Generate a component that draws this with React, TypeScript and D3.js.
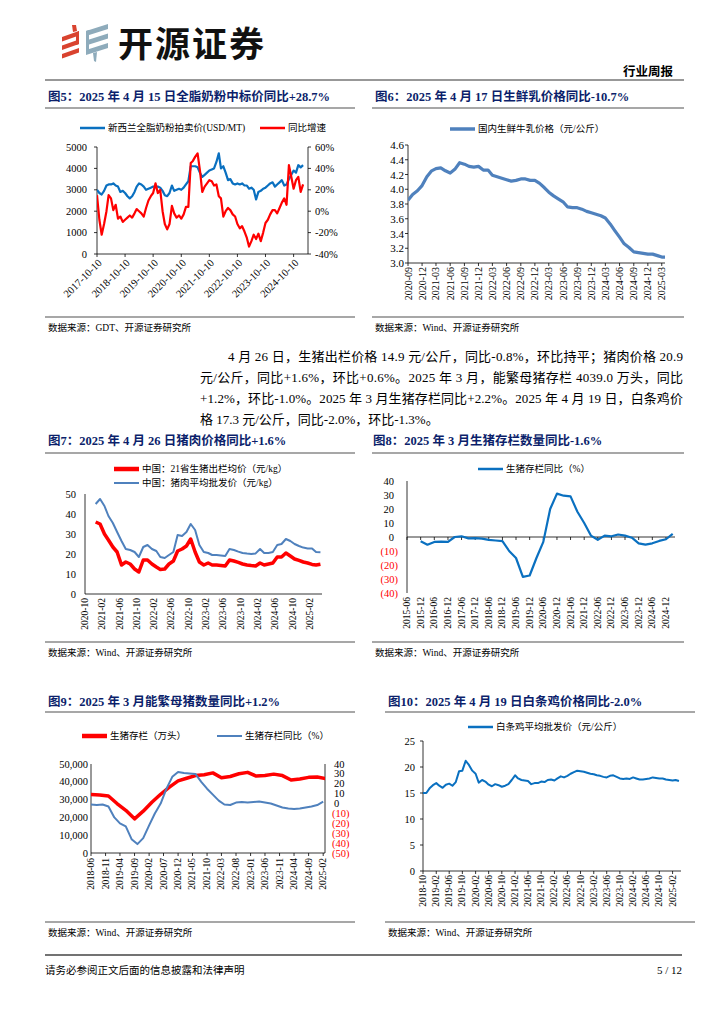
import React, { useEffect, useRef } from 'react';
import * as d3 from 'd3';

const SERIF = "'Liberation Serif', 'Noto Sans CJK SC', serif";
const NAVY = '#0c1f6b';
const RULE = '#8a8a8a';
const RED = '#ff0000';
const BLUE = '#0a70c0';
const STEEL = '#4f81bd';

// 图5 全脂奶粉拍卖价 / 同比 (monthly from 2017-10-10)
const wmpStart = '2017-10-10';
const wmpEnd = '2025-04-15';
const wmpPrice = [
  3000, 2850, 2780, 2950, 3200, 3250, 3250, 3300, 3200, 3150, 2900, 2950, 2850, 2700, 2600,
  2700, 2900, 3150, 3300, 3250, 3150, 3000, 3050, 3100, 3150, 3150, 3150,
  3100, 2950, 2750, 2700, 2850, 3200, 2950, 3000, 3050, 3000, 3100, 3250,
  3400, 4100, 4100, 4100, 4050, 3800, 3600, 3700, 3800, 3900, 3950, 4000,
  4300, 4700, 4000, 4100, 3800, 3450, 3500, 3300, 3250, 3300, 3250, 3300,
  3200, 3200, 3050, 3100, 3000, 2550, 2900, 2950, 3050, 3100, 3200, 3300,
  3350, 3150, 3250, 3350, 3450, 3200, 3250, 3500, 3700, 3900, 3800, 4150,
  4050, 4150,
];
const wmpYoy = [
  15, -8, -22, -12, 0, 15, 12, 1, 6, -7, -5, -10, -8, -6, -4, -6, -2, 2, 0, -2, -5, 3, 10, 14,
  17, 26, 17, 20, 0, -12, -17, -12, 5, -2, -6, -4, -7, -3, 4, 4, 45, 47, 51, 54, 38, 18,
  23, 26, 29, 28, 24, 25, 14, 12, -5, 0, 3, 1, -3, -5, -12, -16, -14, -19, -25, -33, -28, -22,
  -26, -21, -28, -20, -11, -8, -3, 1, 1, -2, 3, 8, 12, 6, 43, 32, 21, 29, 32, 18, 25, 31, 29,
];
const wmpTicks = ['2017-10-10', '2018-10-10', '2019-10-10', '2020-10-10', '2021-10-10', '2022-10-10', '2023-10-10', '2024-10-10'];

// 图6 国内生鲜牛乳价格 (monthly from 2020-09)
const milkStart = '2020-09-01';
const milkPrice = [
  3.85, 3.93, 3.98, 4.05, 4.17, 4.25, 4.28, 4.29, 4.25, 4.22, 4.27, 4.36, 4.34, 4.31, 4.30, 4.31,
  4.26, 4.26, 4.19, 4.17, 4.15, 4.13, 4.11, 4.12, 4.14, 4.14, 4.12, 4.12, 4.08, 4.02, 3.96, 3.91,
  3.87, 3.83, 3.76, 3.75, 3.75, 3.73, 3.70, 3.68, 3.66, 3.64, 3.61, 3.53, 3.44, 3.35, 3.26, 3.21,
  3.15, 3.14, 3.13, 3.12, 3.12, 3.10, 3.08, 3.08,
];
const milkTicks = ['2020-09', '2020-12', '2021-03', '2021-06', '2021-09', '2021-12', '2022-03', '2022-06', '2022-09', '2022-12', '2023-03', '2023-06', '2023-09', '2023-12', '2024-03', '2024-06', '2024-09', '2024-12', '2025-03'];

// 图7 生猪出栏均价 / 猪肉批发价 (monthly from 2020-12-15)
const hogStart = '2020-12-15';
const hogPrice = [
  36, 35, 30, 27, 23.5, 21, 14.5, 16, 15, 12.5, 11, 17, 17, 15, 13.5, 12.3, 12.5, 15, 16.5, 21.5,
  22.5, 24, 27.5, 21, 16, 14.5, 15.5, 14.5, 14.5, 14.3, 14, 17, 16.5, 15.8, 15, 14.5, 14.2, 14,
  15.5, 14.5, 15, 15.5, 18.5, 18.5, 20.5, 19, 17.5, 16.8, 16, 15.5, 14.8, 14.5, 14.9,
];
const porkPrice = [
  45, 47.5, 44, 39, 35.5, 31, 26.5, 22.5, 22, 21, 18.5, 23.5, 24.5, 22.5, 21.5, 18.5, 18, 19.5,
  21, 29.5, 29, 31, 35, 32, 24.5, 21, 20.5, 19.5, 19.5, 19.3, 19, 22.5, 22, 21.2, 20.5, 20.2, 20,
  20.3, 22.5, 20.5, 20.5, 21, 24.5, 25, 27.5, 26.5, 25, 24, 23.2, 22.8, 22.8, 21, 20.9,
];
const hogTicks = ['2020-10', '2021-02', '2021-06', '2021-10', '2022-02', '2022-06', '2022-10', '2023-02', '2023-06', '2023-10', '2024-02', '2024-06', '2024-10', '2025-02'];

// 图8 生猪存栏同比 (quarterly from 2015-12)
const herdStart = '2015-12-01';
const herdYoy = [
  -3, -5.5, -3.5, -3.3, -3.5, 0, 0.5, -1, -0.8, -1.2, -2, -2.5, -3, -10, -15, -28.5, -27.5, -15,
  -3.5, 20, 31, 29.5, 29, 18, 10, 1, -2, 1, 0.5, 1.8, 1, -0.5, -4.5, -5.5, -4.5, -2.8, -1.6, 2.2,
];
const herdTicks = ['2015-06', '2015-12', '2016-06', '2016-12', '2017-06', '2017-12', '2018-06', '2018-12', '2019-06', '2019-12', '2020-06', '2020-12', '2021-06', '2021-12', '2022-06', '2022-12', '2023-06', '2023-12', '2024-06', '2024-12'];

// 图9 生猪存栏 (quarterly from 2018-06) / 同比 (bi-monthly from 2018-06)
const stockStart = '2018-06-01';
const stockHead = [
  32800, 32600, 32000, 27800, 24000, 19200, 23500, 28500, 33000, 37000, 40500, 42000, 43500, 44000,
  45000, 42300, 43000, 44500, 45300, 43200, 43500, 44300, 43500, 41000, 41600, 42500, 42700, 41800,
];
const stockYoy = [
  -1, -1.5, -1, -3, -14, -20, -23, -36, -41, -35, -22, -10, 0, 15, 27, 32, 31, 30.5, 30, 22, 15,
  9, 3, -1, -1.5, 1, 1.5, 1, 1.5, 2, 1, 0, -2, -4, -5, -5.5, -5, -4, -3, -1.5, 2,
];
const stockTicks = ['2018-06', '2018-11', '2019-04', '2019-09', '2020-02', '2020-07', '2020-12', '2021-05', '2021-10', '2022-03', '2022-08', '2023-01', '2023-06', '2023-11', '2024-04', '2024-09', '2025-02'];

// 图10 白条鸡平均批发价 (monthly from 2018-10)
const chickenStart = '2018-10-01';
const chickenPrice = [
  15.0, 15.0, 15.9, 16.5, 16.9, 16.4, 16.0, 16.6, 16.8, 16.4, 17.1, 19.2, 19.3, 21.2, 20.4, 19.3,
  18.7, 17.0, 17.5, 17.2, 16.6, 16.3, 16.7, 16.5, 16.2, 16.4, 16.7, 17.5, 18.4, 17.8, 17.5, 17.4,
  17.3, 16.7, 16.9, 16.9, 17.2, 17.1, 17.5, 17.6, 17.4, 17.8, 18.2, 18.0, 18.3, 18.7, 19.0, 19.3,
  19.2, 19.1, 18.9, 18.7, 18.6, 18.4, 18.3, 18.1, 18.0, 18.3, 18.4, 18.1, 17.8, 17.7, 17.8, 17.7,
  18.0, 17.8, 17.6, 17.6, 17.7, 17.8, 18.0, 17.9, 17.8, 17.8, 17.6, 17.5, 17.4, 17.5, 17.3,
];
const chickenTicks = ['2018-10', '2019-02', '2019-06', '2019-10', '2020-02', '2020-06', '2020-10', '2021-02', '2021-06', '2021-10', '2022-02', '2022-06', '2022-10', '2023-02', '2023-06', '2023-10', '2024-02', '2024-06', '2024-10', '2025-02'];

const paragraph = [
  '4 月 26 日，生猪出栏价格 14.9 元/公斤，同比-0.8%，环比持平；猪肉价格 20.9',
  '元/公斤，同比+1.6%，环比+0.6%。2025 年 3 月，能繁母猪存栏 4039.0 万头，同比',
  '+1.2%，环比-1.0%。2025 年 3 月生猪存栏同比+2.2%。2025 年 4 月 19 日，白条鸡价',
  '格 17.3 元/公斤，同比-2.0%，环比-1.3%。',
];

type G = d3.Selection<SVGGElement, unknown, null, undefined>;
type TOpt = { size?: number; anchor?: string; weight?: string | number; fill?: string; rotate?: number; len?: number };

const day = d3.timeParse('%Y-%m-%d');
const mon = d3.timeParse('%Y-%m');
const months = (start: string, n: number, step = 1) =>
  d3.range(n).map((i) => d3.timeMonth.offset(day(start)!, i * step));

function text(g: G, x: number, y: number, s: string, o: TOpt = {}) {
  const t = g
    .append('text')
    .attr('transform', `translate(${x},${y})${o.rotate ? ` rotate(${o.rotate})` : ''}`)
    .attr('font-family', SERIF)
    .attr('font-size', o.size ?? 10)
    .attr('text-anchor', o.anchor ?? 'start')
    .attr('dominant-baseline', 'central')
    .attr('font-weight', o.weight ?? 'normal')
    .attr('fill', o.fill ?? '#000')
    .text(s);
  if (o.len) t.attr('textLength', o.len).attr('lengthAdjust', 'spacing');
  return t;
}

function rule(g: G, x1: number, y1: number, x2: number, y2: number, color = '#000', w = 1) {
  g.append('line').attr('x1', x1).attr('y1', y1).attr('x2', x2).attr('y2', y2)
    .attr('stroke', color).attr('stroke-width', w);
}

function series(g: G, clip: string, dates: Date[], values: number[], x: d3.ScaleTime<number, number>,
  y: d3.ScaleLinear<number, number>, color: string, w: number) {
  const line = d3.line<number>().x((_, i) => x(dates[i])).y((v) => y(v));
  g.append('path').datum(values).attr('d', line).attr('fill', 'none').attr('stroke', color)
    .attr('stroke-width', w).attr('stroke-linejoin', 'round').attr('clip-path', `url(#${clip})`);
}

function clipRect(svg: d3.Selection<SVGSVGElement, unknown, null, undefined>, id: string, x0: number, y0: number, x1: number, y1: number) {
  svg.select('defs').append('clipPath').attr('id', id).append('rect')
    .attr('x', x0).attr('y', y0 - 4).attr('width', x1 - x0).attr('height', y1 - y0 + 8);
}

function legendItem(g: G, x: number, y: number, color: string, w: number, label: string, size = 9.5) {
  rule(g, x, y, x + 25, y, color, w);
  text(g, x + 28, y, label, { size });
}

function vLabels(g: G, x: d3.ScaleTime<number, number>, ticks: string[], top: number, size = 10) {
  ticks.forEach((t) => {
    const px = x(mon(t)!);
    rule(g, px, top - 4, px, top - 1, '#000', 0.8);
    text(g, px, top + 1, t, { size, anchor: 'end', rotate: -90 });
  });
}

function App() {
  const ref = useRef<SVGSVGElement>(null);

  useEffect(() => {
    if (!ref.current) return;
    const svg = d3.select(ref.current);
    svg.selectAll('*').remove();
    svg.append('defs');
    const page = svg.append('g');

    // Logo
    const logo = page.append('g');
    [0, 1, 2].forEach((i) => {
      const y0 = 31 + i * 8.5;
      logo.append('polygon')
        .attr('points', `62,${y0 + 6} 79,${y0} 79,${y0 + 4.5} 62,${y0 + 10.5}`)
        .attr('fill', '#d9432f');
    });
    logo.append('polygon').attr('points', '72,25 76,25 77,31 73,32').attr('fill', '#d9432f');
    logo.append('polygon').attr('points', '76,33 79,31 79,44 76,45').attr('fill', '#d9432f');
    [0, 1, 2].forEach((i) => {
      const y0 = 24 + i * 9.5;
      logo.append('polygon')
        .attr('points', `86,${y0 + 7} 108,${y0} 108,${y0 + 5} 86,${y0 + 12}`)
        .attr('fill', '#8eabbb');
    });
    logo.append('polygon').attr('points', '86,31 89,30 89,50 86,51').attr('fill', '#8eabbb');
    logo.append('polygon').attr('points', '93,53 97,52 96,62 94,61').attr('fill', '#8eabbb');
    page.append('text').attr('x', 118).attr('y', 57).attr('font-family', "'Noto Sans CJK SC', sans-serif")
      .attr('font-size', 35).attr('font-weight', 700).attr('fill', '#111').attr('letter-spacing', 2).text('开源证券');

    text(page, 673, 72, '行业周报', { size: 12.5, anchor: 'end', weight: 700 });
    rule(page, 45, 80, 684, 80, '#333', 1.2);

    // Titles, rules and sources
    const titles: [number, number, string][] = [
      [48, 97, '图5：2025 年 4 月 15 日全脂奶粉中标价同比+28.7%'],
      [375, 97, '图6：2025 年 4 月 17 日生鲜乳价格同比-10.7%'],
      [48, 441, '图7：2025 年 4 月 26 日猪肉价格同比+1.6%'],
      [373, 441, '图8：2025 年 3 月生猪存栏数量同比-1.6%'],
      [48, 702, '图9：2025 年 3 月能繁母猪数量同比+1.2%'],
      [388, 702, '图10：2025 年 4 月 19 日白条鸡价格同比-2.0%'],
    ];
    titles.forEach(([x, y, s]) => text(page, x, y, s, { size: 12.5, weight: 700, fill: NAVY }));
    const spans: [number, number, number][] = [
      [45, 355, 0], [372, 684, 0], [45, 355, 1], [372, 684, 1], [45, 355, 2], [385, 695, 2],
    ];
    const under = [108, 453, 712];
    const srcRule = [317, 642, 922];
    spans.forEach(([a, b, r]) => {
      rule(page, a, under[r], b, under[r], RULE, 1.5);
      rule(page, a, srcRule[r], b, srcRule[r], RULE, 1.5);
    });
    text(page, 48, 328, '数据来源：GDT、开源证券研究所', { size: 9.5 });
    text(page, 375, 328, '数据来源：Wind、开源证券研究所', { size: 9.5 });
    text(page, 48, 653, '数据来源：Wind、开源证券研究所', { size: 9.5 });
    text(page, 375, 653, '数据来源：Wind、开源证券研究所', { size: 9.5 });
    text(page, 48, 933, '数据来源：Wind、开源证券研究所', { size: 9.5 });
    text(page, 388, 933, '数据来源：Wind、开源证券研究所', { size: 9.5 });

    // Paragraph
    const py = [356, 377, 398, 419];
    paragraph.forEach((s, i) => {
      const x0 = i === 0 ? 228 : 200;
      text(page, x0, py[i], s, { size: 13, len: i < 3 ? 683 - x0 : undefined });
    });

    // Footer
    rule(page, 45, 955, 682, 955, '#444', 1.5);
    text(page, 45, 970, '请务必参阅正文后面的信息披露和法律声明', { size: 10.5 });
    text(page, 682, 970, '5 / 12', { size: 11, anchor: 'end' });

    // ---------- 图5 ----------
    {
      const g = svg.append('g');
      const L = 97, R = 308, T = 147, B = 254;
      const x = d3.scaleTime().domain([day(wmpStart)!, day(wmpEnd)!]).range([L, R]);
      const yl = d3.scaleLinear().domain([0, 5000]).range([B, T]);
      const yr = d3.scaleLinear().domain([-40, 60]).range([B, T]);
      clipRect(svg, 'c5', L, T, R, B);
      rule(g, L, T, L, B, '#000', 0.8);
      rule(g, R, T, R, B, '#000', 0.8);
      rule(g, L, B, R, B, '#000', 0.8);
      yl.ticks(5).forEach((v) => {
        rule(g, L - 3, yl(v), L, yl(v), '#000', 0.8);
        text(g, L - 10, yl(v), String(v), { size: 10.5, anchor: 'end' });
      });
      d3.range(-40, 61, 20).forEach((v) => {
        rule(g, R, yr(v), R + 3, yr(v), '#000', 0.8);
        text(g, R + 7, yr(v), `${v}%`, { size: 10.5 });
      });
      wmpTicks.forEach((t) => {
        const px = x(day(t)!);
        rule(g, px, B, px, B + 3, '#000', 0.8);
        text(g, px + 3, B + 7, t, { size: 10.5, anchor: 'end', rotate: -45 });
      });
      const dates = months(wmpStart, wmpPrice.length);
      series(g, 'c5', dates, wmpPrice, x, yl, BLUE, 2.2);
      series(g, 'c5', dates, wmpYoy, x, yr, RED, 2.2);
      legendItem(g, 80, 128, BLUE, 2.5, '新西兰全脂奶粉拍卖价(USD/MT)', 9.5);
      legendItem(g, 260, 128, RED, 2.5, '同比增速', 9.5);
    }

    // ---------- 图6 ----------
    {
      const g = svg.append('g');
      const L = 408, R = 665, T = 145, B = 263;
      const x = d3.scaleTime().domain([mon('2020-09')!, day('2025-03-22')!]).range([L, R]);
      const y = d3.scaleLinear().domain([3.0, 4.6]).range([B, T]);
      clipRect(svg, 'c6', L, T, R, B);
      rule(g, L, T, L, B, '#000', 0.8);
      rule(g, L, B, R, B, '#000', 0.8);
      d3.range(3.0, 4.61, 0.2).forEach((v) => {
        rule(g, L - 3, y(v), L, y(v), '#000', 0.8);
        text(g, L - 4, y(v), v.toFixed(1), { size: 11, anchor: 'end' });
      });
      milkTicks.forEach((t) => {
        const px = x(mon(t)!);
        rule(g, px, B, px, B + 3, '#000', 0.8);
        text(g, px, B + 4, t, { size: 10, anchor: 'end', rotate: -90 });
      });
      series(g, 'c6', months(milkStart, milkPrice.length), milkPrice, x, y, STEEL, 3.2);
      legendItem(g, 450, 129, STEEL, 3.5, '国内生鲜牛乳价格（元/公斤）', 9.5);
    }

    // ---------- 图7 ----------
    {
      const g = svg.append('g');
      const L = 85, R = 322, T = 494, B = 594;
      const x = d3.scaleTime().domain([mon('2020-10')!, day('2025-04-26')!]).range([L, R]);
      const y = d3.scaleLinear().domain([0, 50]).range([B, T]);
      clipRect(svg, 'c7', L, T, R, B);
      rule(g, L, T, L, B, '#000', 0.8);
      rule(g, L, B, R, B, '#000', 0.8);
      y.ticks(5).forEach((v) => text(g, L - 9, y(v), String(v), { size: 10.5, anchor: 'end' }));
      hogTicks.forEach((t) => {
        const px = x(mon(t)!);
        text(g, px, B + 4, t, { size: 9.5, anchor: 'end', rotate: -90 });
      });
      const dates = months(hogStart, hogPrice.length);
      series(g, 'c7', dates, porkPrice, x, y, STEEL, 2);
      series(g, 'c7', dates, hogPrice, x, y, RED, 3.5);
      legendItem(g, 114, 469, RED, 4.5, '中国：21省生猪出栏均价（元/kg）', 9.5);
      legendItem(g, 114, 483, STEEL, 2, '中国：猪肉平均批发价（元/kg）', 9.5);
    }

    // ---------- 图8 ----------
    {
      const g = svg.append('g');
      const L = 407, R = 675, T = 481, B = 593;
      const x = d3.scaleTime().domain([mon('2015-06')!, mon('2025-04')!]).range([L, R]);
      const y = d3.scaleLinear().domain([-40, 40]).range([B, T]);
      clipRect(svg, 'c8', L, T, R, B);
      rule(g, L, T, L, B, '#000', 0.8);
      rule(g, L, y(0), R, y(0), '#000', 0.8);
      d3.range(-40, 41, 10).forEach((v) => {
        if (v < 0) text(g, L - 9, y(v), `(${-v})`, { size: 10.5, anchor: 'end', fill: RED });
        else text(g, L - 13, y(v), String(v), { size: 10.5, anchor: 'end' });
      });
      herdTicks.forEach((t) => {
        const px = x(mon(t)!);
        rule(g, px, y(0), px, y(0) + 3, '#000', 0.8);
        text(g, px, B + 4, t, { size: 9.5, anchor: 'end', rotate: -90 });
      });
      series(g, 'c8', months(herdStart, herdYoy.length, 3), herdYoy, x, y, BLUE, 2.2);
      legendItem(g, 478, 469, BLUE, 2.5, '生猪存栏同比（%）', 9.5);
    }

    // ---------- 图9 ----------
    {
      const g = svg.append('g');
      const L = 91, R = 325, T = 764, B = 853;
      const x = d3.scaleTime().domain([mon('2018-06')!, day('2025-02-20')!]).range([L, R]);
      const yl = d3.scaleLinear().domain([0, 50000]).range([B, T]);
      const yr = d3.scaleLinear().domain([-50, 40]).range([B, T]);
      clipRect(svg, 'c9', L, T, R, B);
      rule(g, L, T, L, B, '#000', 0.8);
      rule(g, R, T, R, B, '#000', 0.8);
      rule(g, L, B, R, B, '#000', 0.8);
      d3.range(0, 50001, 10000).forEach((v) =>
        text(g, L - 3, yl(v), d3.format(',')(v), { size: 10.5, anchor: 'end' }));
      d3.range(-50, 41, 10).forEach((v) => {
        if (v < 0) text(g, R + 7, yr(v), `(${-v})`, { size: 10.5, fill: RED });
        else text(g, R + 9, yr(v), String(v), { size: 10.5 });
      });
      vLabels(g, x, stockTicks, B + 4, 9.5);
      series(g, 'c9', months(stockStart, stockHead.length, 3), stockHead, x, yl, RED, 3.5);
      series(g, 'c9', months(stockStart, stockYoy.length, 2), stockYoy, x, yr, STEEL, 2);
      legendItem(g, 82, 736, RED, 4.5, '生猪存栏（万头）', 9.5);
      legendItem(g, 217, 736, STEEL, 2, '生猪存栏同比（%）', 9.5);
    }

    // ---------- 图10 ----------
    {
      const g = svg.append('g');
      const L = 423, R = 681, T = 741, B = 871;
      const x = d3.scaleTime().domain([mon('2018-10')!, day('2025-04-20')!]).range([L, R]);
      const y = d3.scaleLinear().domain([0, 25]).range([B, T]);
      clipRect(svg, 'c10', L, T, R, B);
      rule(g, L, T, L, B, '#000', 0.8);
      rule(g, L, B, R, B, '#000', 0.8);
      d3.range(0, 26, 5).forEach((v) => {
        rule(g, L - 3, y(v), L, y(v), '#000', 0.8);
        text(g, L - 8, y(v), String(v), { size: 10.5, anchor: 'end' });
      });
      chickenTicks.forEach((t) => {
        const px = x(mon(t)!);
        rule(g, px, B, px, B + 3, '#000', 0.8);
        text(g, px, B + 4, t, { size: 9.5, anchor: 'end', rotate: -90 });
      });
      series(g, 'c10', months(chickenStart, chickenPrice.length), chickenPrice, x, y, BLUE, 2);
      legendItem(g, 468, 727, BLUE, 2.5, '白条鸡平均批发价（元/公斤）', 9.5);
    }
  }, []);

  return (
    <svg
      ref={ref}
      width={724}
      height={1024}
      style={{ position: 'absolute', left: 0, top: 0, background: '#fff' }}
    />
  );
}

export default App;
